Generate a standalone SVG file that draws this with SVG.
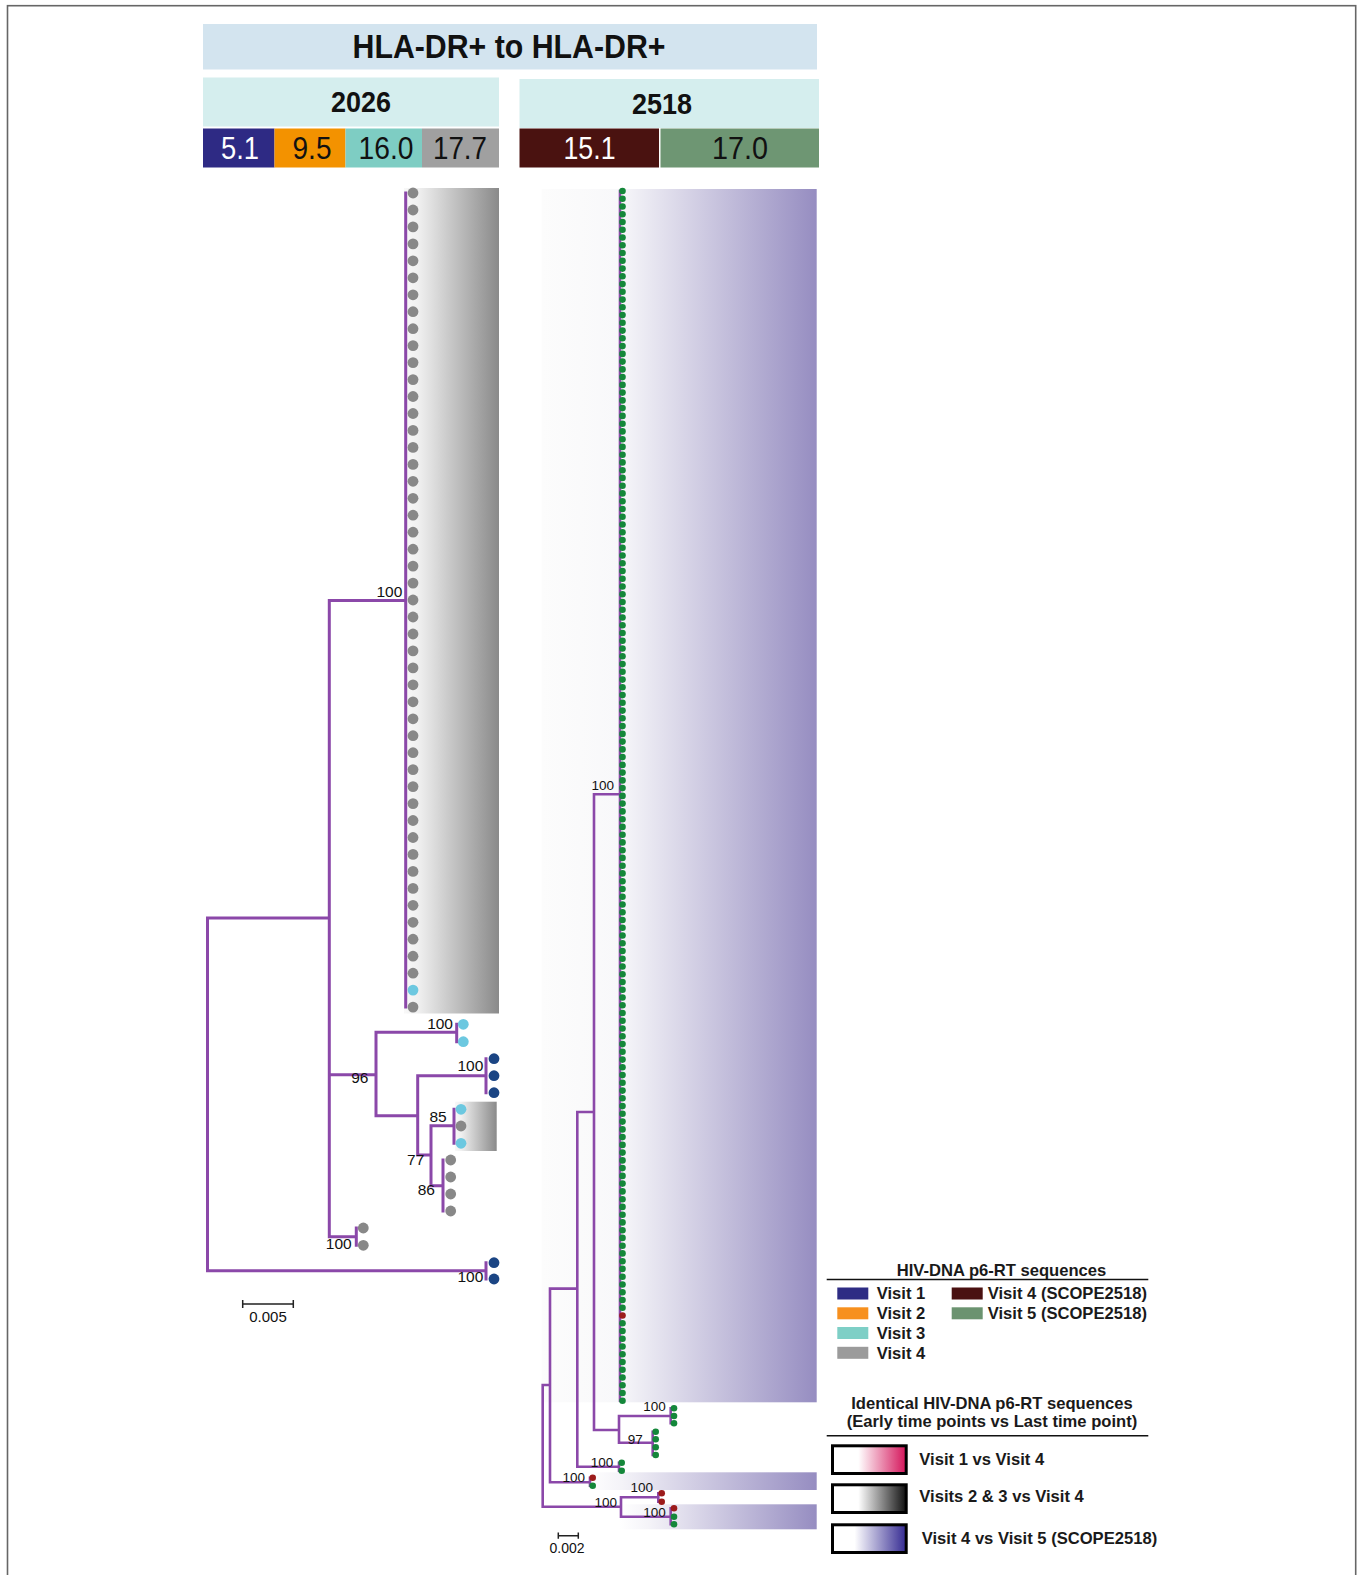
<svg xmlns="http://www.w3.org/2000/svg" xmlns:xlink="http://www.w3.org/1999/xlink" width="1362" height="1575" viewBox="0 0 1362 1575">
<style>
.br{fill:none;stroke:#8b48a9;stroke-linecap:square}
.bl{stroke-width:3}
.brr{stroke-width:2.6}
.lab{font-family:"Liberation Sans",Arial,sans-serif;fill:#111;text-anchor:end}
.ll{font-size:15.5px}
.lr{font-size:13.5px}
.hd{font-family:"Liberation Sans",Arial,sans-serif;font-weight:bold;fill:#111;text-anchor:middle}
.num{font-family:"Liberation Sans",Arial,sans-serif;font-size:31px;text-anchor:middle}
.lg{font-family:"Liberation Sans",Arial,sans-serif;font-weight:bold;font-size:16.6px;fill:#1a1a1a}
.sc{fill:none;stroke:#222;stroke-width:1.5}
.box{stroke:#000;stroke-width:3}
</style>
<defs>
<linearGradient id="gGray" x1="0" y1="0" x2="1" y2="0"><stop offset="0" stop-color="#f8f8f8"/><stop offset="0.15" stop-color="#f0f0f0"/><stop offset="1" stop-color="#8a8a8a"/></linearGradient>
<linearGradient id="gPur" x1="0" y1="0" x2="1" y2="0"><stop offset="0" stop-color="#fcfcfc"/><stop offset="0.28" stop-color="#f8f8fa"/><stop offset="1" stop-color="#968dc1"/></linearGradient>
<linearGradient id="gPurB" x1="0" y1="0" x2="1" y2="0"><stop offset="0" stop-color="#ffffff"/><stop offset="0.15" stop-color="#f4f3f8"/><stop offset="1" stop-color="#968dc1"/></linearGradient>
<linearGradient id="gLR" x1="0" y1="0" x2="1" y2="0"><stop offset="0" stop-color="#fff"/><stop offset="0.35" stop-color="#fff"/><stop offset="1" stop-color="#d4145a"/></linearGradient>
<linearGradient id="gLK" x1="0" y1="0" x2="1" y2="0"><stop offset="0" stop-color="#fff"/><stop offset="0.35" stop-color="#fff"/><stop offset="1" stop-color="#111"/></linearGradient>
<linearGradient id="gLP" x1="0" y1="0" x2="1" y2="0"><stop offset="0" stop-color="#fff"/><stop offset="0.3" stop-color="#fff"/><stop offset="1" stop-color="#342a92"/></linearGradient>
<circle id="dGy" cx="0" cy="0" r="5.4" fill="#888888"/>
<circle id="dCy" cx="0" cy="0" r="5.4" fill="#6cc8e0"/>
<circle id="dNv" cx="0" cy="0" r="5.4" fill="#1b4584"/>
<circle id="dG" cx="0" cy="0" r="3.3" fill="#14873a"/>
<circle id="dR" cx="0" cy="0" r="3.3" fill="#9c1b1b"/>
</defs>

<rect x="7.5" y="5.7" width="1348.2" height="1580" fill="none" stroke="#666" stroke-width="1.6"/>

<g id="header">
<rect x="203" y="24" width="614" height="45.5" fill="#d3e4ef"/>
<text class="hd" x="509" y="58" font-size="33" textLength="313" lengthAdjust="spacingAndGlyphs">HLA-DR+ to HLA-DR+</text>
</g>
<g id="head-2026">
<rect x="203" y="77.5" width="296" height="49" fill="#d5eeee"/>
<text class="hd" x="361" y="112" font-size="29" textLength="60" lengthAdjust="spacingAndGlyphs">2026</text>
<rect x="203" y="128.5" width="71.5" height="39" fill="#2e2a84"/>
<rect x="274.5" y="128.5" width="71" height="39" fill="#f39200"/>
<rect x="345.5" y="128.5" width="76.5" height="39" fill="#7ecdc3"/>
<rect x="422" y="128.5" width="77" height="39" fill="#a0a0a0"/>
<text class="num" x="240" y="159" fill="#fff" textLength="38" lengthAdjust="spacingAndGlyphs">5.1</text>
<text class="num" x="312" y="159" fill="#111" textLength="39" lengthAdjust="spacingAndGlyphs">9.5</text>
<text class="num" x="386" y="159" fill="#111" textLength="55" lengthAdjust="spacingAndGlyphs">16.0</text>
<text class="num" x="460" y="159" fill="#111" textLength="54" lengthAdjust="spacingAndGlyphs">17.7</text>
</g>
<g id="head-2518">
<rect x="519.5" y="79" width="299.5" height="49" fill="#d5eeee"/>
<text class="hd" x="662" y="114" font-size="29" textLength="60" lengthAdjust="spacingAndGlyphs">2518</text>
<rect x="519.5" y="128.5" width="139.5" height="39" fill="#4a1210"/>
<rect x="660.5" y="128.5" width="158.5" height="39" fill="#6e9673"/>
<text class="num" x="589.5" y="159" fill="#fff" textLength="52" lengthAdjust="spacingAndGlyphs">15.1</text>
<text class="num" x="740" y="159" fill="#111" textLength="56" lengthAdjust="spacingAndGlyphs">17.0</text>
</g>

<g id="shading">
<rect x="404" y="188" width="95" height="825.5" fill="url(#gGray)"/>
<rect x="455" y="1101.7" width="41.7" height="49.3" fill="url(#gGray)"/>
<rect x="541.7" y="189" width="275" height="1213.3" fill="url(#gPur)"/>
<rect x="587" y="1472.3" width="229.7" height="17.7" fill="url(#gPurB)"/>
<rect x="620" y="1504.3" width="196.7" height="25" fill="url(#gPurB)"/>
</g>

<g id="connectors">
<path class="br bl" d="M207.5,918V1270.7M207.5,918H329.3M207.5,1270.7H486M329.3,600.5V1236.7M329.3,600.5H405.7M405.7,193V1007.1M329.3,1074.7H376M329.3,1236.7H356.3M356.3,1228V1245.3M376,1032.3V1115.7M376,1032.3H456.7M456.7,1024.3V1041.7M376,1115.7H417.7M417.7,1075.7V1155M417.7,1075.7H486M486,1058.7V1092.7M417.7,1155H431M431,1125.7V1185.7M431,1125.7H454M454,1109.3V1143.3M431,1185.7H443M443,1160V1211M486,1262.7V1279"/>
<path class="br brr" d="M542.7,1385V1506.7M542.7,1385H550M542.7,1506.7H621M550,1288.6V1482.3M550,1288.6H577.3M550,1482.3H590M590,1477.7V1485.7M577.3,1112V1466.7M577.3,1112H594M577.3,1466.7H619M619,1462.7V1470.7M594,794.3V1430M594,794.3H620M620,191V1400.8M594,1430H619M619,1416V1442.7M619,1416H670.7M670.7,1408.3V1423.3M619,1442.7H652.7M652.7,1431.7V1455M621,1497.3V1516.7M621,1497.3H658.3M658.3,1493.3V1501.7M621,1516.7H670.7M670.7,1508.3V1524.3"/>
</g>

<g id="clade-2026-main" transform="translate(413,0)">
<use href="#dGy" y="193"/><use href="#dGy" y="210"/><use href="#dGy" y="226.9"/><use href="#dGy" y="243.9"/><use href="#dGy" y="260.8"/><use href="#dGy" y="277.8"/><use href="#dGy" y="294.8"/><use href="#dGy" y="311.7"/><use href="#dGy" y="328.7"/><use href="#dGy" y="345.6"/>
<use href="#dGy" y="362.6"/><use href="#dGy" y="379.6"/><use href="#dGy" y="396.5"/><use href="#dGy" y="413.5"/><use href="#dGy" y="430.4"/><use href="#dGy" y="447.4"/><use href="#dGy" y="464.4"/><use href="#dGy" y="481.3"/><use href="#dGy" y="498.3"/><use href="#dGy" y="515.2"/>
<use href="#dGy" y="532.2"/><use href="#dGy" y="549.2"/><use href="#dGy" y="566.1"/><use href="#dGy" y="583.1"/><use href="#dGy" y="600"/><use href="#dGy" y="617"/><use href="#dGy" y="634"/><use href="#dGy" y="650.9"/><use href="#dGy" y="667.9"/><use href="#dGy" y="684.8"/>
<use href="#dGy" y="701.8"/><use href="#dGy" y="718.8"/><use href="#dGy" y="735.7"/><use href="#dGy" y="752.7"/><use href="#dGy" y="769.6"/><use href="#dGy" y="786.6"/><use href="#dGy" y="803.6"/><use href="#dGy" y="820.5"/><use href="#dGy" y="837.5"/><use href="#dGy" y="854.4"/>
<use href="#dGy" y="871.4"/><use href="#dGy" y="888.4"/><use href="#dGy" y="905.3"/><use href="#dGy" y="922.3"/><use href="#dGy" y="939.2"/><use href="#dGy" y="956.2"/><use href="#dGy" y="973.2"/><use href="#dCy" y="990.1"/><use href="#dGy" y="1007.1"/>
</g>
<g id="clade-2026-c1"><use href="#dCy" x="463.3" y="1024.3"/><use href="#dCy" x="463.3" y="1041.7"/></g>
<g id="clade-2026-c2"><use href="#dNv" x="494" y="1058.7"/><use href="#dNv" x="494" y="1075.7"/><use href="#dNv" x="494" y="1092.7"/></g>
<g id="clade-2026-c3"><use href="#dCy" x="461" y="1109.3"/><use href="#dGy" x="461" y="1126"/><use href="#dCy" x="461" y="1143.3"/></g>
<g id="clade-2026-c4"><use href="#dGy" x="450.7" y="1160"/><use href="#dGy" x="450.7" y="1177"/><use href="#dGy" x="450.7" y="1194"/><use href="#dGy" x="450.7" y="1211"/></g>
<g id="clade-2026-c5"><use href="#dGy" x="363.3" y="1228"/><use href="#dGy" x="363.3" y="1245.3"/></g>
<g id="clade-2026-c6"><use href="#dNv" x="494" y="1262.7"/><use href="#dNv" x="494" y="1279"/></g>

<g id="labels-2026" class="lab ll">
<text x="402.3" y="597">100</text>
<text x="453" y="1028.5">100</text>
<text x="368.5" y="1083">96</text>
<text x="483.3" y="1071">100</text>
<text x="446.7" y="1122">85</text>
<text x="424.3" y="1165">77</text>
<text x="435" y="1194.5">86</text>
<text x="351.7" y="1248.5">100</text>
<text x="483.3" y="1282">100</text>
</g>
<g id="scale-2026">
<path class="sc" d="M242.7,1304H293.3M242.7,1300V1308M293.3,1300V1308"/>
<text class="lab" x="268" y="1321.5" font-size="15" style="text-anchor:middle">0.005</text>
</g>

<g id="clade-2518-main" transform="translate(622.5,0)">
<use href="#dG" y="191"/><use href="#dG" y="198.8"/><use href="#dG" y="206.5"/><use href="#dG" y="214.3"/><use href="#dG" y="222"/><use href="#dG" y="229.8"/><use href="#dG" y="237.5"/><use href="#dG" y="245.3"/><use href="#dG" y="253"/><use href="#dG" y="260.8"/>
<use href="#dG" y="268.6"/><use href="#dG" y="276.3"/><use href="#dG" y="284.1"/><use href="#dG" y="291.8"/><use href="#dG" y="299.6"/><use href="#dG" y="307.3"/><use href="#dG" y="315.1"/><use href="#dG" y="322.8"/><use href="#dG" y="330.6"/><use href="#dG" y="338.3"/>
<use href="#dG" y="346.1"/><use href="#dG" y="353.9"/><use href="#dG" y="361.6"/><use href="#dG" y="369.4"/><use href="#dG" y="377.1"/><use href="#dG" y="384.9"/><use href="#dG" y="392.6"/><use href="#dG" y="400.4"/><use href="#dG" y="408.1"/><use href="#dG" y="415.9"/>
<use href="#dG" y="423.7"/><use href="#dG" y="431.4"/><use href="#dG" y="439.2"/><use href="#dG" y="446.9"/><use href="#dG" y="454.7"/><use href="#dG" y="462.4"/><use href="#dG" y="470.2"/><use href="#dG" y="477.9"/><use href="#dG" y="485.7"/><use href="#dG" y="493.4"/>
<use href="#dG" y="501.2"/><use href="#dG" y="509"/><use href="#dG" y="516.7"/><use href="#dG" y="524.5"/><use href="#dG" y="532.2"/><use href="#dG" y="540"/><use href="#dG" y="547.7"/><use href="#dG" y="555.5"/><use href="#dG" y="563.2"/><use href="#dG" y="571"/>
<use href="#dG" y="578.8"/><use href="#dG" y="586.5"/><use href="#dG" y="594.3"/><use href="#dG" y="602"/><use href="#dG" y="609.8"/><use href="#dG" y="617.5"/><use href="#dG" y="625.3"/><use href="#dG" y="633"/><use href="#dG" y="640.8"/><use href="#dG" y="648.5"/>
<use href="#dG" y="656.3"/><use href="#dG" y="664.1"/><use href="#dG" y="671.8"/><use href="#dG" y="679.6"/><use href="#dG" y="687.3"/><use href="#dG" y="695.1"/><use href="#dG" y="702.8"/><use href="#dG" y="710.6"/><use href="#dG" y="718.3"/><use href="#dG" y="726.1"/>
<use href="#dG" y="733.9"/><use href="#dG" y="741.6"/><use href="#dG" y="749.4"/><use href="#dG" y="757.1"/><use href="#dG" y="764.9"/><use href="#dG" y="772.6"/><use href="#dG" y="780.4"/><use href="#dG" y="788.1"/><use href="#dG" y="795.9"/><use href="#dG" y="803.6"/>
<use href="#dG" y="811.4"/><use href="#dG" y="819.2"/><use href="#dG" y="826.9"/><use href="#dG" y="834.7"/><use href="#dG" y="842.4"/><use href="#dG" y="850.2"/><use href="#dG" y="857.9"/><use href="#dG" y="865.7"/><use href="#dG" y="873.4"/><use href="#dG" y="881.2"/>
<use href="#dG" y="889"/><use href="#dG" y="896.7"/><use href="#dG" y="904.5"/><use href="#dG" y="912.2"/><use href="#dG" y="920"/><use href="#dG" y="927.7"/><use href="#dG" y="935.5"/><use href="#dG" y="943.2"/><use href="#dG" y="951"/><use href="#dG" y="958.7"/>
<use href="#dG" y="966.5"/><use href="#dG" y="974.3"/><use href="#dG" y="982"/><use href="#dG" y="989.8"/><use href="#dG" y="997.5"/><use href="#dG" y="1005.3"/><use href="#dG" y="1013"/><use href="#dG" y="1020.8"/><use href="#dG" y="1028.5"/><use href="#dG" y="1036.3"/>
<use href="#dG" y="1044.1"/><use href="#dG" y="1051.8"/><use href="#dG" y="1059.6"/><use href="#dG" y="1067.3"/><use href="#dG" y="1075.1"/><use href="#dG" y="1082.8"/><use href="#dG" y="1090.6"/><use href="#dG" y="1098.3"/><use href="#dG" y="1106.1"/><use href="#dG" y="1113.8"/>
<use href="#dG" y="1121.6"/><use href="#dG" y="1129.4"/><use href="#dG" y="1137.1"/><use href="#dG" y="1144.9"/><use href="#dG" y="1152.6"/><use href="#dG" y="1160.4"/><use href="#dG" y="1168.1"/><use href="#dG" y="1175.9"/><use href="#dG" y="1183.6"/><use href="#dG" y="1191.4"/>
<use href="#dG" y="1199.2"/><use href="#dG" y="1206.9"/><use href="#dG" y="1214.7"/><use href="#dG" y="1222.4"/><use href="#dG" y="1230.2"/><use href="#dG" y="1237.9"/><use href="#dG" y="1245.7"/><use href="#dG" y="1253.4"/><use href="#dG" y="1261.2"/><use href="#dG" y="1268.9"/>
<use href="#dG" y="1276.7"/><use href="#dG" y="1284.5"/><use href="#dG" y="1292.2"/><use href="#dG" y="1300"/><use href="#dG" y="1307.7"/><use href="#dR" y="1315.5"/><use href="#dG" y="1323.2"/><use href="#dG" y="1331"/><use href="#dG" y="1338.7"/><use href="#dG" y="1346.5"/>
<use href="#dG" y="1354.3"/><use href="#dG" y="1362"/><use href="#dG" y="1369.8"/><use href="#dG" y="1377.5"/><use href="#dG" y="1385.3"/><use href="#dG" y="1393"/><use href="#dG" y="1400.8"/>
</g>
<g id="clade-2518-c1"><use href="#dG" x="674" y="1408.3"/><use href="#dG" x="674" y="1416"/><use href="#dG" x="674" y="1423.3"/></g>
<g id="clade-2518-c2"><use href="#dG" x="655.7" y="1431.7"/><use href="#dG" x="655.7" y="1439.3"/><use href="#dG" x="655.7" y="1447.3"/><use href="#dG" x="655.7" y="1455"/></g>
<g id="clade-2518-c3"><use href="#dG" x="621.7" y="1462.7"/><use href="#dG" x="621.7" y="1470.7"/></g>
<g id="clade-2518-c4"><use href="#dR" x="592.7" y="1477.7"/><use href="#dG" x="592.7" y="1485.7"/></g>
<g id="clade-2518-c5"><use href="#dR" x="661.7" y="1493.3"/><use href="#dR" x="661.7" y="1501.7"/></g>
<g id="clade-2518-c6"><use href="#dR" x="674" y="1508.3"/><use href="#dG" x="674" y="1516.7"/><use href="#dG" x="674" y="1524.3"/></g>

<g id="labels-2518" class="lab lr">
<text x="614" y="790">100</text>
<text x="665.7" y="1410.5">100</text>
<text x="642.7" y="1444">97</text>
<text x="613.3" y="1467">100</text>
<text x="585" y="1482">100</text>
<text x="653" y="1492">100</text>
<text x="617" y="1507">100</text>
<text x="665.7" y="1517">100</text>
</g>
<g id="scale-2518">
<path class="sc" d="M558.3,1535.7H578.3M558.3,1532.5V1538.8M578.3,1532.5V1538.8"/>
<text class="lab" x="567" y="1552.5" font-size="14" style="text-anchor:middle">0.002</text>
</g>

<g id="legend-visits">
<text class="lg" x="1001.5" y="1276" text-anchor="middle">HIV-DNA p6-RT sequences</text>
<line x1="826.7" y1="1279.5" x2="1148.3" y2="1279.5" stroke="#111" stroke-width="1.6"/>
<rect x="837.3" y="1287.5" width="31" height="12" fill="#2e2c84"/>
<rect x="837.3" y="1307.3" width="31" height="12" fill="#f7901e"/>
<rect x="837.3" y="1327" width="31" height="12" fill="#7ecfc6"/>
<rect x="837.3" y="1346.8" width="31" height="12" fill="#9b9b9b"/>
<rect x="951.7" y="1287.5" width="31" height="12" fill="#4a1111"/>
<rect x="951.7" y="1307.3" width="31" height="12" fill="#6b9370"/>
<text class="lg" x="876.7" y="1299">Visit 1</text>
<text class="lg" x="876.7" y="1319">Visit 2</text>
<text class="lg" x="876.7" y="1339">Visit 3</text>
<text class="lg" x="876.7" y="1358.5">Visit 4</text>
<text class="lg" x="987.7" y="1299">Visit 4 (SCOPE2518)</text>
<text class="lg" x="987.7" y="1319">Visit 5 (SCOPE2518)</text>
</g>
<g id="legend-identical">
<text class="lg" x="992" y="1409.3" text-anchor="middle">Identical HIV-DNA p6-RT sequences</text>
<text class="lg" x="992" y="1427" text-anchor="middle">(Early time points vs Last time point)</text>
<line x1="826.7" y1="1435.7" x2="1148.3" y2="1435.7" stroke="#111" stroke-width="1.6"/>
<rect class="box" x="832.5" y="1445.8" width="73.7" height="27.7" fill="url(#gLR)"/>
<rect class="box" x="832.5" y="1484.8" width="73.7" height="27.7" fill="url(#gLK)"/>
<rect class="box" x="832.5" y="1524.8" width="73.7" height="27.7" fill="url(#gLP)"/>
<text class="lg" x="919.3" y="1465">Visit 1 vs Visit 4</text>
<text class="lg" x="919.3" y="1502.3">Visits 2 &amp; 3 vs Visit 4</text>
<text class="lg" x="921.7" y="1544">Visit 4 vs Visit 5 (SCOPE2518)</text>
</g>
</svg>
